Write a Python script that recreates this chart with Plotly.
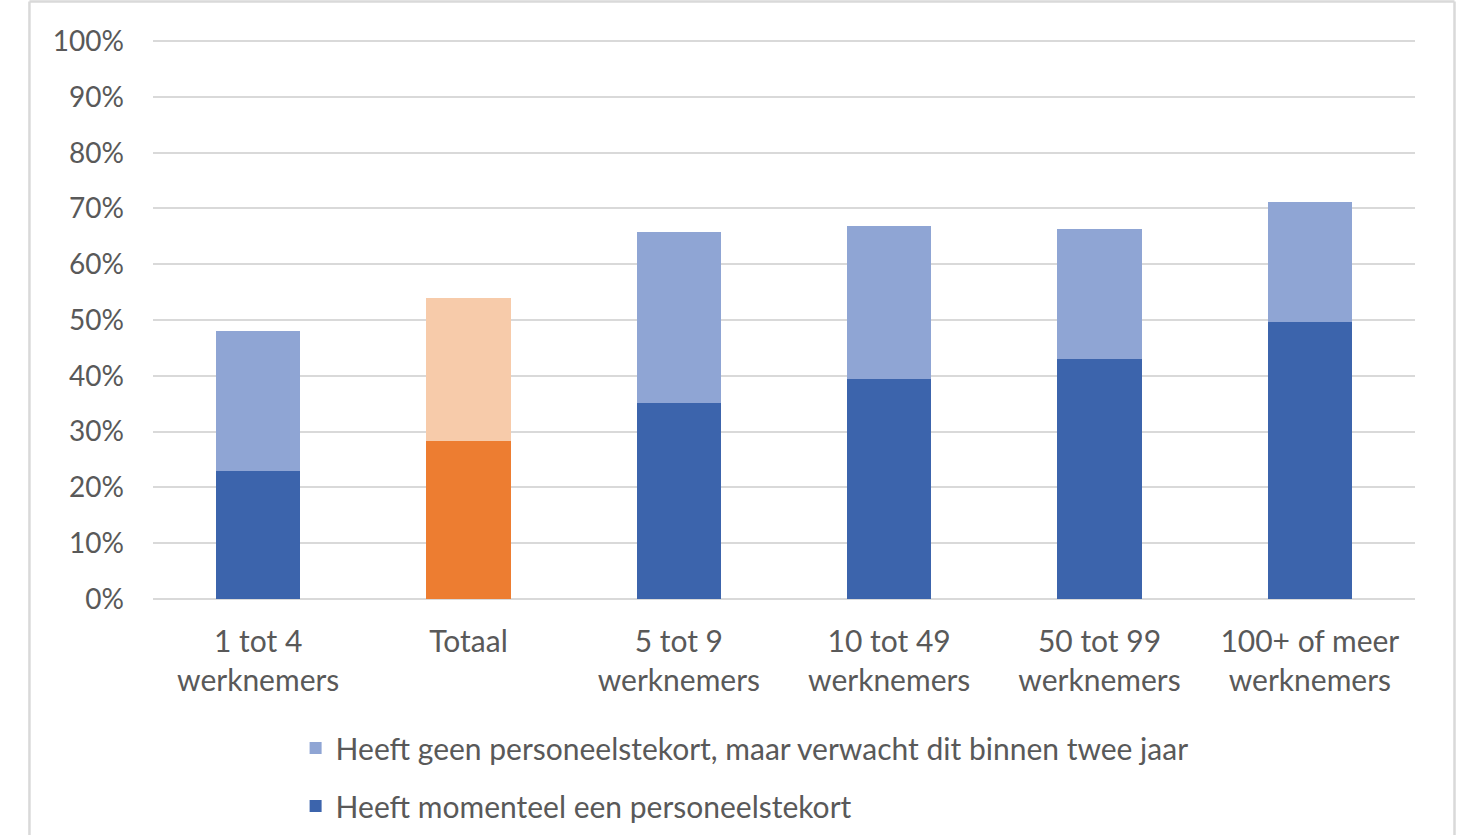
import plotly.graph_objects as go

categories = ["1 tot 4<br>werknemers", "Totaal", "5 tot 9<br>werknemers",
              "10 tot 49<br>werknemers", "50 tot 99<br>werknemers", "100+ of meer<br>werknemers"]
momenteel = [0.23, 0.283, 0.351, 0.395, 0.431, 0.497]
verwacht = [0.25, 0.257, 0.306, 0.274, 0.233, 0.215]

dark_colors = ["#3C64AC", "#ED7D31", "#3C64AC", "#3C64AC", "#3C64AC", "#3C64AC"]
light_colors = ["#8FA5D4", "#F7CBAA", "#8FA5D4", "#8FA5D4", "#8FA5D4", "#8FA5D4"]

name_dark = "Heeft momenteel een personeelstekort"
name_light = "Heeft geen personeelstekort, maar verwacht dit binnen twee jaar"

FONT = "Lato"
GREY = "#595959"

fig = go.Figure()
fig.add_trace(go.Bar(x=categories, y=momenteel, name=name_dark, legendgroup="a", legendrank=2,
                     marker=dict(color=dark_colors, line=dict(width=0))))
fig.add_trace(go.Bar(x=categories, y=verwacht, name=name_light, legendgroup="b", legendrank=1,
                     marker=dict(color=light_colors, line=dict(width=0))))

# outer chart border (left, top, right)
for x0, y0, x1, y1 in [(-0.0979, 1.0689, 1.0313, 1.0689),
                       (-0.0979, 1.0689, -0.0979, -0.45),
                       (1.0313, 1.0689, 1.0313, -0.45)]:
    fig.add_shape(type="line", xref="paper", yref="paper", x0=x0, y0=y0, x1=x1, y1=y1,
                  line=dict(color="#D9D9D9", width=2.5), layer="below")

fig.update_layout(
    barmode="stack",
    bargap=0.6,
    width=1484, height=835,
    margin=dict(l=153, r=69, t=40, b=236, autoexpand=False),
    paper_bgcolor="white", plot_bgcolor="white",
    font=dict(family=FONT, color=GREY, size=30),
    showlegend=True,
    legend=dict(orientation="v", traceorder="grouped", tracegroupgap=16,
                x=0.113, xanchor="left", y=-0.22, yanchor="top",
                font=dict(family=FONT, size=30, color=GREY),
                bgcolor="rgba(0,0,0,0)"),
    xaxis=dict(showgrid=False, showline=False, ticks="", ticklabelstandoff=22,
               tickfont=dict(size=30, color=GREY)),
    yaxis=dict(range=[0, 1.002], tickvals=[i / 10 for i in range(11)], tickformat=".0%",
               showgrid=True, gridcolor="#D9D9D9", gridwidth=2, zeroline=True,
               zerolinecolor="#D9D9D9", zerolinewidth=2, showline=False, ticks="",
               ticklabelstandoff=28, tickfont=dict(size=28, color=GREY)),
)

fig.write_html("out.html", config={"displayModeBar": False},
               post_script="document.body.style.margin='0';")
